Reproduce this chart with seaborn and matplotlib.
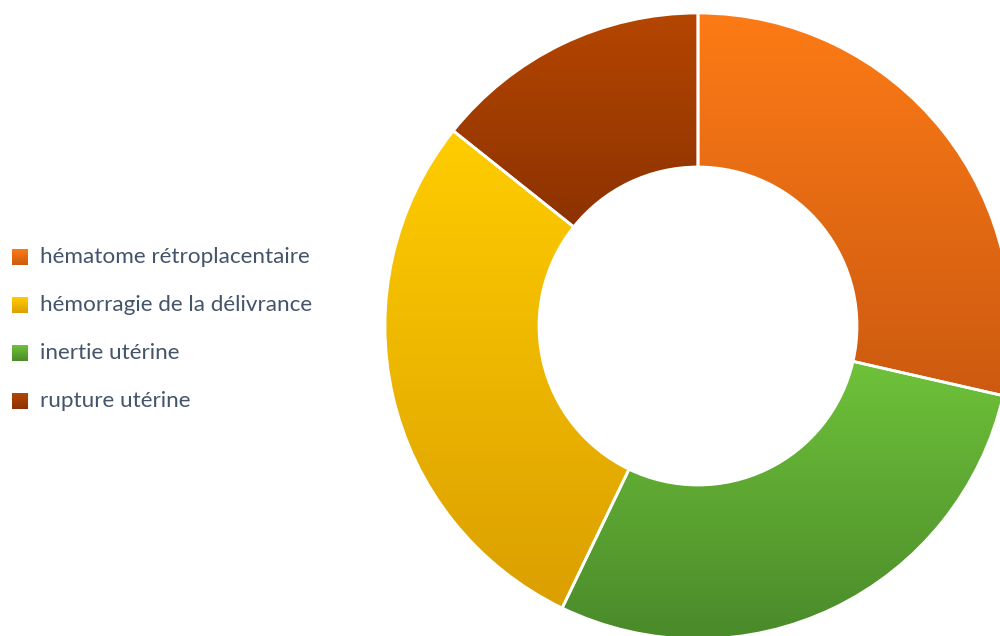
import numpy as np
import matplotlib
matplotlib.use("Agg")
import matplotlib.pyplot as plt
from matplotlib.colors import LinearSegmentedColormap
import seaborn as sns

# Causes of obstetric haemorrhage (relative counts)
categories = ["hématome rétroplacentaire", "inertie utérine",
              "hémorragie de la délivrance", "rupture utérine"]
values = [2, 2, 2, 1]

# Legend order as displayed
legend_order = ["hématome rétroplacentaire", "hémorragie de la délivrance",
                "inertie utérine", "rupture utérine"]

# Vertical gradient (top colour, bottom colour) for each category
gradients = {
    "hématome rétroplacentaire": ("#FD7B16", "#CC5A10"),
    "inertie utérine": ("#6FC23A", "#4A8A2A"),
    "hémorragie de la délivrance": ("#FFCD00", "#DB9F00"),
    "rupture utérine": ("#B44600", "#8C3200"),
}

sns.set_theme(style="white")
plt.rcParams["font.family"] = ["Lato", "DejaVu Sans"]

W, H = 1000, 636
fig = plt.figure(figsize=(W / 100, H / 100), dpi=100)
ax = fig.add_axes([0, 0, 1, 1])

cx, cy = 698, H - 326
R_out, R_in = 313, 159

wedges, _ = ax.pie(values, center=(cx, cy), radius=R_out, startangle=90,
                   counterclock=False, frame=True,
                   wedgeprops=dict(width=R_out - R_in, edgecolor="white",
                                   linewidth=2))

grad = np.linspace(0, 1, 256).reshape(-1, 1)
for w, cat in zip(wedges, categories):
    top, bottom = gradients[cat]
    cmap = LinearSegmentedColormap.from_list(cat, [top, bottom])
    ext = w.get_path().get_extents()
    w.set_facecolor("none")
    img = ax.imshow(grad, cmap=cmap, aspect="auto", origin="upper",
                    extent=(ext.x0, ext.x1, ext.y0, ext.y1), zorder=1)
    img.set_clip_path(w)
    w.set_zorder(2)

# Legend: gradient squares with labels
row_y = [257, 305, 353, 401]
sq = 16
for cat, y in zip(legend_order, row_y):
    top, bottom = gradients[cat]
    cmap = LinearSegmentedColormap.from_list(cat + "_leg", [top, bottom])
    yb = H - y
    ax.imshow(grad, cmap=cmap, aspect="auto", origin="upper",
              extent=(12, 12 + sq, yb - sq / 2, yb + sq / 2), zorder=3)
    ax.text(40, yb, cat, fontsize=16.2, color="#44546A", va="center",
            ha="left", zorder=3)

ax.set_xlim(0, W)
ax.set_ylim(0, H)
ax.set_aspect("equal")
ax.axis("off")

fig.savefig("out.png", dpi=100, facecolor="white")
